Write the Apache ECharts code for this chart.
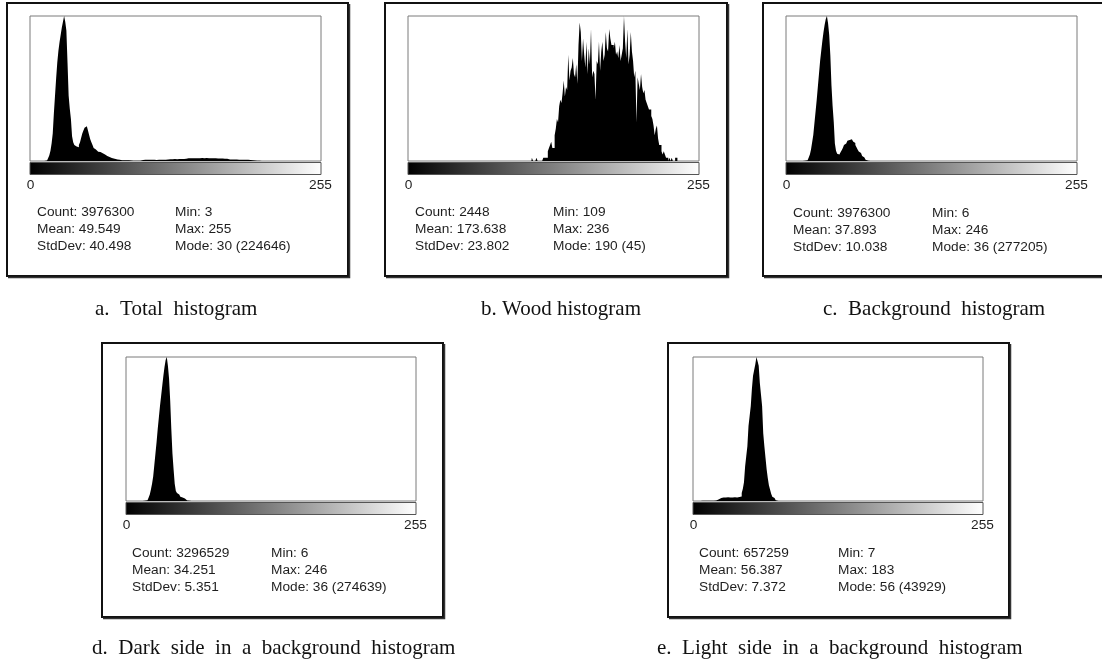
<!DOCTYPE html>
<html><head><meta charset="utf-8">
<script src="https://cdn.jsdelivr.net/npm/echarts@6/dist/echarts.min.js"></script>
<style>html,body{margin:0;padding:0;background:#fff}#c{width:1102px;height:663px}</style>
</head><body><div id="c"></div>
<script>
// ---------- DATA ----------
// grey-level bins 0..255
const bins = Array.from({length: 256}, (_, i) => String(i));
const tickLabels = ['0', '255'];

// a. Total histogram — relative height (% of mode count 224646), starting at bin 14
const totalStart = 14;
const totalPct = [0.3,1,2,4,7,12,19,33,45,57,68,76,82,87,92,96,100,96,90,68,45,36,29,17,13,11,10,9,9.5,11,
  13,16,19,21,23,24,23,21,18,15,13,11,9,8,7,6.7,6.4,6.2,6,5.7,5.3,4.9,4.4,4,3.5,3.1,2.7,2.3,2,1.7,
  1.5,1.2,1,0.9,0.8,0.7,0.6,0.6,0.6,0.6,0.6,0.6,0.5,0.5,0.4,0.2,0.2,0.2,0.2,0.2,0.2,0.2,0.2,0.6,0.7,
  0.7,0.8,0.8,0.7,0.8,0.8,0.8,0.7,0.8,0.8,0.8,0.8,0.7,0.8,0.8,0.8,0.9,0.9,0.9,0.9,0.9,0.9,1.0,1.2,1.2,
  1.2,1.2,1.2,1.3,1.2,1.2,1.2,1.3,1.3,1.3,1.4,1.4,1.5,1.6,1.8,1.9,1.9,1.9,2.0,1.9,1.9,1.9,2.0,1.9,1.9,
  1.9,2.0,2.0,1.9,1.9,1.9,2.0,1.9,1.9,1.9,1.9,1.9,1.9,1.9,1.9,1.9,1.8,1.8,1.8,1.8,1.7,1.7,1.6,1.6,1.5,
  1.2,1.1,1.1,1.0,1.0,1.0,1.0,1.0,1.0,0.9,0.9,0.9,0.9,0.9,0.9,0.8,0.8,0.8,0.8,0.7,0.7,0.6,0.5,0.3,0.2,
  0.2,0.2,0.2];

// b. Wood histogram — counts (mode 45), starting at bin 109
const woodStart = 109;
const woodCounts = [1,0,0,0,1,0,0,0,0,0,1,1,1,1,3,4,5,6,4,4,8,10,13,12,17,19,18,21,25,20,23,22,33,25,28,29,32,27,26,30,
  24,36,43,40,31,38,33,29,37,27,35,30,41,26,28,27,19,31,30,37,28,34,37,31,33,40,35,34,41,38,36,36,35,37,33,34,32,36,31,33,
  35,45,37,32,41,30,33,40,34,31,26,28,12,26,24,22,27,23,21,22,19,18,17,16,16,14,13,11,8,10,11,7,5,5,3,2,3,2,1,1,
  0,1,0,1,0,0,1,1];

// c. Background histogram — % of mode count 277205, starting at bin 6
const backStart = 6;
const backPct = [0.05,0.05,0.05,0.05,0.05,0.05,0.05,0.05,0.05,0.1,0.1,0.2,0.5,1,2.5,4.5,8,13,18,26,34,42,51,60,69,76,83,89,94,98,
  100,95,87,73,52,38,27,12,7,5,4.5,5,6,7.5,9,11,12,13,14,14.5,15,15,14.5,13.5,12.5,11,9.5,8,6.5,5.5,4.5,3.5,2.5,1.5,0.8,0.4,0.2,0.1];

// d. Dark side — % of mode count 274639, starting at bin 6
const darkStart = 6;
const darkPct = [0.05,0.05,0.05,0.05,0.05,0.05,0.05,0.05,0.05,0.1,0.1,0.2,0.5,1,2.5,4.5,8,12,17,25,33,41,50,58,66,73,80,87,93,98,
  100,94,85,70,50,33,22,12,7,5.5,4.5,3.5,3,2.5,2,1.8,1.2,0.8,0.4,0.2];

// e. Light side — % of mode count 43929, starting at bin 7
const lightStart = 7;
const lightPct = [0.1,0.1,0.1,0.1,0.1,0.1,0.1,0.1,0.1,0.1,0.1,0.2,0.2,0.3,0.6,1,1.5,2,2.2,2.4,2.5,2.4,2.5,2.6,2.5,2.5,2.6,2.5,2.5,2.6,
  2.6,2.5,2.6,2.7,2.7,3.2,5.5,8.5,13,24,31,38,52,59,66,78,87,91,95,100,97,94,82,74,66,47,38,30,22,16,
  11,8,5,3,2,1,0.5,0.2];

const captions = [
  'a.  Total  histogram',
  'b. Wood histogram',
  'c.  Background  histogram',
  'd.  Dark  side  in  a  background  histogram',
  'e.  Light  side  in  a  background  histogram'
];
const statsLeft = [
  ['Count: 3976300', 'Mean: 49.549', 'StdDev: 40.498'],
  ['Count: 2448', 'Mean: 173.638', 'StdDev: 23.802'],
  ['Count: 3976300', 'Mean: 37.893', 'StdDev: 10.038'],
  ['Count: 3296529', 'Mean: 34.251', 'StdDev: 5.351'],
  ['Count: 657259', 'Mean: 56.387', 'StdDev: 7.372']
];
const statsRight = [
  ['Min: 3', 'Max: 255', 'Mode: 30 (224646)'],
  ['Min: 109', 'Max: 236', 'Mode: 190 (45)'],
  ['Min: 6', 'Max: 246', 'Mode: 36 (277205)'],
  ['Min: 6', 'Max: 246', 'Mode: 36 (274639)'],
  ['Min: 7', 'Max: 183', 'Mode: 56 (43929)']
];
const seriesStart = [totalStart, woodStart, backStart, darkStart, lightStart];
const seriesVals = [totalPct, woodCounts, backPct, darkPct, lightPct];
const yMax = [100, 45, 100, 100, 100];

// ---------- LAYOUT ----------
const layout = [
  {grid: {left: 30, top: 16, width: 291, height: 145}, frame: [7, 3, 341, 273], sx: [37, 175], sy: [212, 229, 246], cap: [95, 309, 'left']},
  {grid: {left: 408, top: 16, width: 291, height: 145}, frame: [385, 3, 342, 273], sx: [415, 553], sy: [212, 229, 246], cap: [641, 309, 'right']},
  {grid: {left: 786, top: 16, width: 291, height: 145}, frame: [763, 3, 360, 273], sx: [793, 932], sy: [213, 230, 247], cap: [823, 309, 'left']},
  {grid: {left: 126, top: 357, width: 290, height: 144}, frame: [102, 343, 341, 274], sx: [132, 271], sy: [553, 570, 587], cap: [92, 648, 'left']},
  {grid: {left: 693, top: 357, width: 290, height: 144}, frame: [668, 343, 341, 274], sx: [699, 838], sy: [553, 570, 587], cap: [657, 648, 'left']}
];

const SANS = '"Liberation Sans", Arial, sans-serif';
const SERIF = '"Liberation Serif", "Times New Roman", serif';
const TXT = '#1e1e1e';

function fullSeries(start, vals) {
  const out = new Array(256).fill(0);
  vals.forEach((v, i) => { out[start + i] = v; });
  return out;
}

const grids = [], xAxes = [], yAxes = [], series = [], graphics = [];
layout.forEach((p, i) => {
  const g = p.grid;
  grids.push(Object.assign({show: true, borderColor: '#7a7a7a', borderWidth: 1, backgroundColor: '#fff', containLabel: false}, g));
  xAxes.push({
    type: 'category', gridIndex: i, data: bins, boundaryGap: true,
    axisLine: {show: false}, axisTick: {show: false}, splitLine: {show: false},
    axisLabel: {
      show: true, margin: 17, fontSize: 13.7, fontFamily: SANS, color: TXT,
      interval: (idx) => idx === 0 || idx === 255,
      formatter: (v) => (v === '0' ? tickLabels[0] : tickLabels[1])
    }
  });
  yAxes.push({type: 'value', gridIndex: i, min: 0, max: yMax[i], show: false, splitLine: {show: false}});
  // histogram drawn as a stepped filled area (one step per grey-level bin)
  series.push({
    type: 'line', step: 'middle', xAxisIndex: i, yAxisIndex: i, data: fullSeries(seriesStart[i], seriesVals[i]),
    symbol: 'none', silent: true, z: 3,
    lineStyle: {width: 0, color: '#000'},
    areaStyle: {color: '#000', opacity: 1}
  });
  // outer frame with heavier right/bottom edge
  const [fx, fy, fw, fh] = p.frame;
  graphics.push({type: 'rect', shape: {x: fx, y: fy, width: fw, height: fh}, style: {fill: 'none', stroke: '#111', lineWidth: 2}, z: 10});
  graphics.push({type: 'polyline', shape: {points: [[fx + fw + 1.5, fy + 1], [fx + fw + 1.5, fy + fh + 1.5], [fx + 1, fy + fh + 1.5]]}, style: {fill: 'none', stroke: '#333', lineWidth: 1.5}, z: 10});
  // grey-scale ramp under the plot
  graphics.push({type: 'rect', shape: {x: g.left, y: g.top + g.height + 1.5, width: g.width, height: 12},
    style: {fill: {type: 'linear', x: 0, y: 0, x2: 1, y2: 0, colorStops: [{offset: 0, color: '#000'}, {offset: 1, color: '#fff'}]}, stroke: '#555', lineWidth: 1}, z: 10});
  // stats
  for (let r = 0; r < 3; r++) {
    graphics.push({type: 'text', x: p.sx[0], y: p.sy[r], style: {text: statsLeft[i][r], font: '13.7px ' + SANS, fill: TXT, textVerticalAlign: 'middle', verticalAlign: 'middle'}, z: 10});
    graphics.push({type: 'text', x: p.sx[1], y: p.sy[r], style: {text: statsRight[i][r], font: '13.7px ' + SANS, fill: TXT, textVerticalAlign: 'middle', verticalAlign: 'middle'}, z: 10});
  }
  // caption
  graphics.push({type: 'text', x: p.cap[0], y: p.cap[1], style: {text: captions[i], font: '21px ' + SERIF, fill: '#111', textAlign: p.cap[2], align: p.cap[2], textVerticalAlign: 'middle', verticalAlign: 'middle'}, z: 10});
});

const chart = echarts.init(document.getElementById('c'), null, {renderer: 'canvas'});
chart.setOption({
  backgroundColor: '#fff',
  animation: false,
  grid: grids, xAxis: xAxes, yAxis: yAxes, series: series,
  graphic: {elements: graphics}
});
</script>
</body></html>
